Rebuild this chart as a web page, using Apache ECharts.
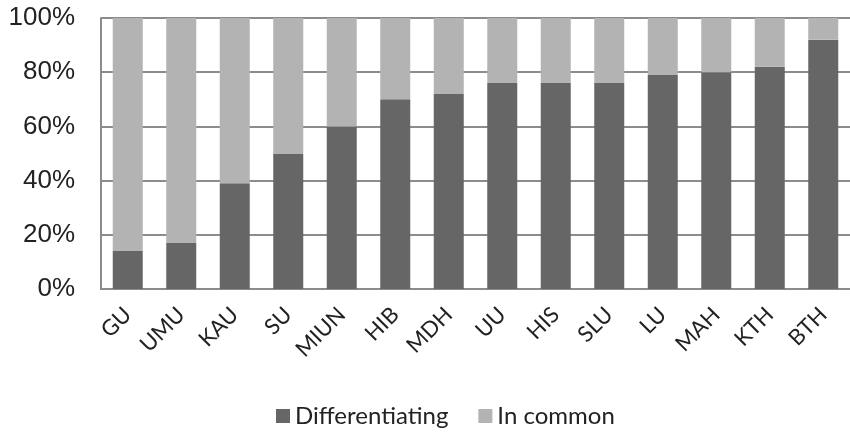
<!DOCTYPE html>
<html><head><meta charset="utf-8">
<script src="https://cdn.jsdelivr.net/npm/echarts@6/dist/echarts.min.js"></script>
<style>html,body{margin:0;padding:0;background:#fff}#c{width:850px;height:434px}</style>
</head><body><div id="c"></div>
<script>
const categories = ["GU","UMU","KAU","SU","MIUN","HIB","MDH","UU","HIS","SLU","LU","MAH","KTH","BTH"];
const differentiating = [14,17,39,50,60,70,72,76,76,76,79,80,82,92];
const inCommon = [86,83,61,50,40,30,28,24,24,24,21,20,18,8];
const yTicks = [0,20,40,60,80,100];

const chart = echarts.init(document.getElementById('c'), null, {renderer:'canvas'});
chart.setOption({
  animation:false,
  backgroundColor:'#fff',
  grid:{left:101, top:18, width:757, height:271, containLabel:false},
  legend:{
    bottom:1, left:271, itemWidth:14, itemHeight:14, itemGap:30, icon:'rect',
    textStyle:{fontFamily:'Lato', fontSize:24, color:'#222'},
    data:['Differentiating','In common']
  },
  xAxis:{
    type:'category', data:categories,
    axisLine:{show:true, lineStyle:{color:'#8c8c8c', width:2}},
    axisTick:{show:false},
    axisLabel:{rotate:45, interval:0, margin:22, fontFamily:'Lato', fontSize:22, color:'#222'}
  },
  yAxis:{
    type:'value', min:0, max:100, interval:20,
    axisLine:{show:true, lineStyle:{color:'#8c8c8c', width:2}},
    axisTick:{show:false},
    splitLine:{lineStyle:{color:'#8c8c8c', width:2}},
    axisLabel:{margin:26, fontFamily:'Liberation Sans', fontSize:26, color:'#222',
      formatter:v=> yTicks.includes(v) ? v+'%' : ''}
  },
  series:[
    {name:'Differentiating', type:'bar', stack:'a', data:differentiating, barWidth:30,
      itemStyle:{color:'#666666'}},
    {name:'In common', type:'bar', stack:'a', data:inCommon, barWidth:30,
      itemStyle:{color:'#b3b3b3'}}
  ]
});
</script></body></html>
